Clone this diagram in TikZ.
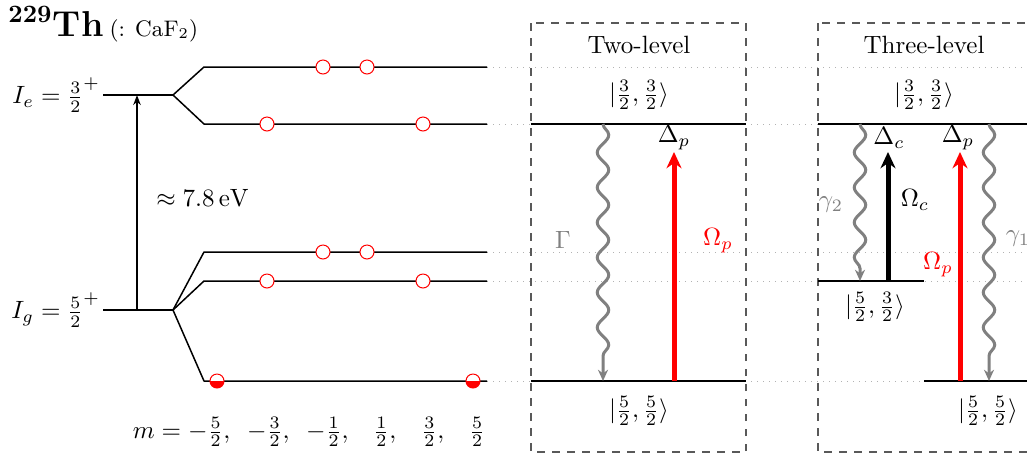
\documentclass[tikz,border=0pt]{standalone}
\usepackage{amsmath}
\usetikzlibrary{arrows.meta, positioning, decorations.pathmorphing}
\tikzset{
    % levels and guides
    level/.style = {semithick, black, line join=round},
    guide/.style = {gray!60, dotted},
    frame/.style = {draw=black!65, dashed, semithick},
    % populations
    pop/.style = {circle, draw=red, fill=white, minimum size=5.6pt, inner sep=0pt},
    halfpop/.style = {pop, path picture={\fill[red] (path picture bounding box.west) rectangle (path picture bounding box.south east);}},
    % transitions
    pump/.style = {line width=2pt, -{Stealth[length=6.5pt, width=6pt]}},
    decay/.style = {gray, very thick, -{Stealth[length=4.5pt, width=4pt]}, decorate,
        decoration={snake, amplitude=2.3pt, segment length=14pt, post length=5pt}},
    rate/.style = {text=gray}
}

\begin{document}
\begin{tikzpicture}[x=0.4pt, y=-0.4pt]
    \useasboundingbox (0,0) rectangle (1027,455);
    \clip (0,0) rectangle (1027,455);

    \node (title) [anchor=base west, inner sep=0pt] at (8,36) {\Large$^{\mathbf{229}}$\textbf{Th}\,{\small(: CaF$_2$)}};

    % guides from the hyperfine sublevels across both panels
    \foreach \lev/\y in {e1/67, e2/124, g1/252, g2/281, g3/381} {
        \coordinate (\lev-w) at (204,\y);
        \coordinate (\lev-e) at (487,\y);
        \coordinate (\lev-far) at (1027,\y);
        \draw[guide] (\lev-e) -- (\lev-far);
    }

    % panels
    \draw[frame] (531,23) rectangle (746,452);
    \draw[frame] (818,23) rectangle (1040,452);

    % nuclear levels and splitting
    \coordinate (Ie-w) at (103,95);
    \coordinate (Ie-s) at (173,95);
    \coordinate (Ig-w) at (103,310);
    \coordinate (Ig-s) at (173,310);
    \node (Ie) [anchor=east, inner sep=1pt] at (Ie-w) {$I_e = \frac{3}{2}^{+}$};
    \node (Ig) [anchor=east, inner sep=1pt] at (Ig-w) {$I_g = \frac{5}{2}^{+}$};
    \draw[level] (Ie-w) -- (Ie-s);
    \draw[level] (Ig-w) -- (Ig-s);
    \foreach \lev in {e1, e2} \draw[level] (Ie-s) -- (\lev-w) -- (\lev-e);
    \foreach \lev in {g1, g2, g3} \draw[level] (Ig-s) -- (\lev-w) -- (\lev-e);

    \coordinate (gap-bot) at (137,310);
    \coordinate (gap-top) at (137,95);
    \draw[thick, -{Stealth[length=4pt, width=3pt]}] (gap-bot) -- node[right=4pt, yshift=2pt] {$\approx 7.8\,\mathrm{eV}$} (gap-top);

    % populations
    \foreach \x/\y in {323/67, 367/67, 267/124, 423/124, 323/252, 367/252, 267/281, 423/281}
        \node (pop-\x-\y) [pop] at (\x,\y) {};
    \foreach \x in {217, 473}
        \node (pop-\x-381) [halfpop] at (\x,381) {};

    \node (mvals) at (309,432) {$m = -\frac{5}{2},\ \,-\frac{3}{2},\ \,-\frac{1}{2},\ \ \,\frac{1}{2},\ \ \,\frac{3}{2},\ \ \,\frac{5}{2}$};

    % two-level scheme
    \node (two-title) at (639,45) {Two-level};
    \coordinate (twoE-w) at (531,124);
    \coordinate (twoE-e) at (746,124);
    \coordinate (twoG-w) at (531,381);
    \coordinate (twoG-e) at (746,381);
    \draw[level] (twoE-w) -- (twoE-e);
    \draw[level] (twoG-w) -- (twoG-e);
    \node (two-up) at (639,95) {$\lvert\frac{3}{2},\frac{3}{2}\rangle$};
    \node (two-dn) at (639,411) {$\lvert\frac{5}{2},\frac{5}{2}\rangle$};

    \coordinate (two-dec-top) at (603,124);
    \coordinate (two-dec-bot) at (603,381);
    \draw[decay] (two-dec-top) -- (two-dec-bot);
    \node (two-G) [rate] at (563,240) {$\Gamma$};

    \coordinate (two-p-bot) at (674,381);
    \coordinate (two-p-top) at (674,152);
    \draw[pump, red] (two-p-bot) -- (two-p-top);
    \node (two-Dp) at (674,138) {$\Delta_p$};
    \node (two-Op) [text=red] at (718,241) {$\Omega_p$};

    % three-level scheme
    \node (three-title) at (924,45) {Three-level};
    \coordinate (thrE-w) at (818,124);
    \coordinate (thrE-e) at (1027,124);
    \coordinate (thrM-w) at (818,281);
    \coordinate (thrM-e) at (924,281);
    \coordinate (thrG-w) at (924,381);
    \coordinate (thrG-e) at (1027,381);
    \draw[level] (thrE-w) -- (thrE-e);
    \draw[level] (thrM-w) -- (thrM-e);
    \draw[level] (thrG-w) -- (thrG-e);
    \node (thr-up) at (924,95) {$\lvert\frac{3}{2},\frac{3}{2}\rangle$};
    \node (thr-mid) at (875,307) {$\lvert\frac{5}{2},\frac{3}{2}\rangle$};
    \node (thr-dn) at (988,411) {$\lvert\frac{5}{2},\frac{5}{2}\rangle$};

    \coordinate (thr-g2-top) at (860,124);
    \coordinate (thr-g2-bot) at (860,281);
    \draw[decay] (thr-g2-top) -- (thr-g2-bot);
    \node (thr-g2) [rate] at (831,205) {$\gamma_2$};
    \coordinate (thr-g1-top) at (989,124);
    \coordinate (thr-g1-bot) at (989,381);
    \draw[decay] (thr-g1-top) -- (thr-g1-bot);
    \node (thr-g1) [rate] at (1018,239) {$\gamma_1$};

    \coordinate (thr-c-bot) at (888,281);
    \coordinate (thr-c-top) at (888,152);
    \draw[pump] (thr-c-bot) -- (thr-c-top);
    \node (thr-Dc) at (889,138) {$\Delta_c$};
    \node (thr-Oc) at (915,200) {$\Omega_c$};

    \coordinate (thr-p-bot) at (960,381);
    \coordinate (thr-p-top) at (960,152);
    \draw[pump, red] (thr-p-bot) -- (thr-p-top);
    \node (thr-Dp) at (958,138) {$\Delta_p$};
    \node (thr-Op) [text=red] at (938,265) {$\Omega_p$};
\end{tikzpicture}
\end{document}
